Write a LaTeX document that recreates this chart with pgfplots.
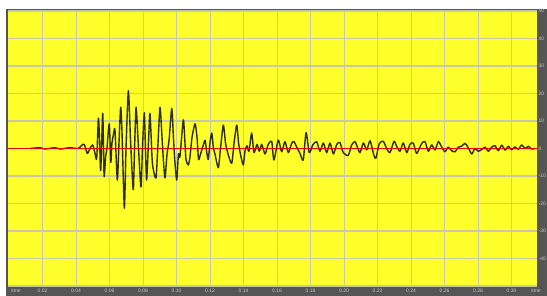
\documentclass[border=0pt]{standalone}
\usepackage{fontspec}
\setmainfont{Liberation Sans}
\usepackage{pgfplots}
\usepackage{pgfplotstable}
\pgfplotsset{compat=1.18}
\definecolor{plotyellow}{RGB}{255,255,44}
\definecolor{gridgray}{RGB}{200,200,170}
\definecolor{framegray}{RGB}{85,85,85}
\definecolor{labelgray}{RGB}{200,200,200}
\definecolor{wave}{RGB}{45,45,20}
\pgfplotstableread{
t amp
0.0125 0
0.0184 0.3
0.0214 -0.2
0.0274 0.3
0.0304 -0.2
0.0364 0.3
0.0411 0
0.0443 1.6
0.0453 0.8
0.0467 -1.8
0.0483 0
0.0499 1.3
0.0513 -1.8
0.0523 -3.6
0.0533 11
0.0540 3
0.0547 -8
0.0559 12.8
0.0567 -10
0.0576 -3
0.0584 0
0.0598 9
0.0607 -5
0.0614 2
0.0623 5
0.0632 6.7
0.0646 -11.5
0.0656 2
0.0666 15
0.0674 6
0.0688 -21.7
0.0698 0
0.0712 21
0.0725 3
0.0741 -15
0.0749 0
0.0758 15
0.0770 3
0.0787 -14
0.0796 0
0.0807 13
0.0814 0
0.0821 -11.5
0.0832 2
0.0841 12.8
0.0853 -3
0.0859 -7
0.0877 -10.7
0.0889 2
0.0901 15
0.0913 4
0.0922 -5
0.0931 -10.7
0.0943 -2
0.0955 3
0.0971 14.6
0.0981 4
0.0990 -5
0.1001 -11.5
0.1011 -2
0.1020 -3
0.1040 10.4
0.1050 2
0.1056 -4
0.1070 -6
0.1080 -3
0.1092 4
0.1110 9
0.1122 4
0.1131 -4
0.1143 -2
0.1158 1
0.1170 3
0.1179 -1
0.1189 -4
0.1199 2
0.1210 5.6
0.1220 0
0.1229 -2
0.1249 -7
0.1262 0
0.1279 8.5
0.1292 2
0.1307 -2
0.1329 -5.4
0.1343 2
0.1359 8.5
0.1370 2
0.1381 -2
0.1398 -6
0.1408 -1
0.1420 1
0.1432 -1
0.1448 5.6
0.1462 -1.5
0.1480 1.5
0.1494 -1
0.1508 1.5
0.1528 -2
0.1547 1.5
0.1568 2.5
0.1581 -4.2
0.1607 3.1
0.1627 -1.2
0.1647 2.5
0.1667 -1.5
0.1687 1.9
0.1701 2.5
0.1721 0
0.1737 -1.8
0.1756 -4.2
0.1773 5.8
0.1792 -1.5
0.1813 1.3
0.1836 2.5
0.1856 -1
0.1876 2
0.1896 -1.5
0.1916 2
0.1936 -2
0.1956 1.5
0.1975 2.2
0.1995 -1.5
0.2025 -2.5
0.2045 1.3
0.2065 2.5
0.2079 0.5
0.2095 -1.5
0.2115 2
0.2135 -0.5
0.2155 2.8
0.2178 -2.5
0.2190 -3.5
0.2210 1.8
0.2234 2.6
0.2254 0
0.2274 -1.5
0.2298 2.6
0.2316 0.5
0.2334 -1
0.2353 2
0.2374 -1.5
0.2393 1.5
0.2413 2
0.2433 -1.8
0.2463 1.8
0.2483 2.5
0.2503 -1
0.2523 1.3
0.2543 -0.5
0.2563 2.5
0.2583 0.5
0.2602 -1.2
0.2622 0.5
0.2642 -0.8
0.2662 -1.2
0.2682 0.5
0.2702 0.8
0.2722 1.9
0.2741 0.3
0.2762 -2
0.2781 0
0.2801 -1
0.2821 -0.4
0.2841 0.5
0.2861 -1
0.2881 0.5
0.2901 1
0.2920 -0.8
0.2941 1.2
0.2961 -0.6
0.2980 0.8
0.3000 -0.5
0.3020 0.6
0.3040 -0.3
0.3060 1.3
0.3080 0
0.3100 0.8
0.3120 -0.2
0.3140 0
}\wavetable
\begin{document}
\begin{tikzpicture}
\useasboundingbox (0,0) rectangle (547pt,296pt);
\fill[white] (0,0) rectangle (547pt,296pt);
\fill[framegray] (6pt,0) rectangle (547pt,287pt);
\begin{axis}[
  at={(8pt,10pt)}, anchor=south west,
  scale only axis, width=529pt, height=275pt,
  xmin=-0.00066, xmax=0.31516, ymin=-50, ymax=50,
  axis background/.style={fill=plotyellow},
  axis line style={draw=none},
  major tick length=0pt,
  grid=major,
  major grid style={color=gridgray, line width=1.1pt},
  xtick={0.02,0.04,0.06,0.08,0.10,0.12,0.14,0.16,0.18,0.20,0.22,0.24,0.26,0.28,0.30},
  xticklabels={0.02,0.04,0.06,0.08,0.10,0.12,0.14,0.16,0.18,0.20,0.22,0.24,0.26,0.28,0.30},
  ytick={-50,-40,-30,-20,-10,0,10,20,30,40,50},
  yticklabels={,-40,-30,-20,-10,0,10,20,30,40,50},
  yticklabel pos=right,
  xticklabel style={font=\fontsize{5}{5}\selectfont, text=labelgray, anchor=center, yshift=-5pt, inner sep=0pt},
  yticklabel style={font=\fontsize{5}{5}\selectfont, text=labelgray, anchor=west, xshift=1.5pt, inner sep=0pt},
  clip=true,
]
\addplot[wave, line width=1.4pt, line join=round, smooth, tension=0.4] table[x=t, y=amp] {\wavetable};
\addplot[red!90!black, line width=0.8pt] coordinates {(-0.001,0) (0.316,0)};
\end{axis}
\node[font=\fontsize{5}{5}\selectfont, text=labelgray, inner sep=0pt] at (16pt,5pt) {time};
\node[font=\fontsize{5}{5}\selectfont, text=labelgray, inner sep=0pt] at (536pt,5pt) {time};
\end{tikzpicture}
\end{document}
